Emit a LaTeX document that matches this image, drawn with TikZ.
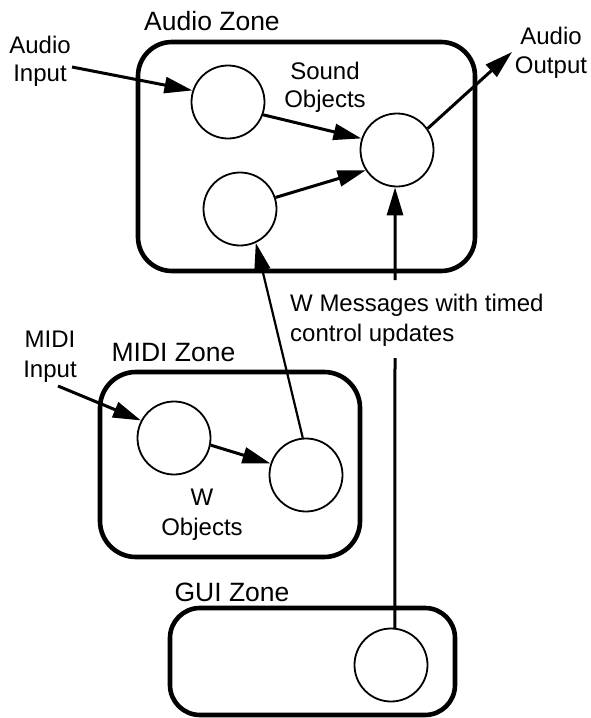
\documentclass[tikz,border=0pt]{standalone}
\usepackage{fontspec}
\setmainfont{Liberation Sans}
\usetikzlibrary{arrows.meta}
\tikzset{
  obj/.style={circle, draw, line width=1.8pt, minimum size=73pt, inner sep=0pt},
  zone/.style={draw, line width=4.6pt, inner sep=0pt},
  lbl/.style={font=\fontsize{24}{29}\selectfont, inner sep=0pt, anchor=base},
  zlbl/.style={font=\fontsize{26.5}{30}\selectfont, inner sep=0pt, anchor=base},
  tip/.style={-{Triangle[length=28pt,width=16pt]}},
  flow/.style={line width=3pt, tip},
  wire/.style={line width=3pt},
}
\begin{document}
\begin{tikzpicture}[x=1pt, y=-1pt]
\useasboundingbox (0,0) rectangle (591,718);

% zones
\node[zone, rounded corners=34pt, minimum width=337pt, minimum height=229pt] (audio) at (306.5,156.5) {};
\node[zone, rounded corners=36pt, minimum width=260pt, minimum height=185pt] (midi) at (230,464.5) {};
\node[zone, rounded corners=30pt, minimum width=285pt, minimum height=107pt] (gui) at (312.5,661.5) {};
\node[zlbl] (audioT) at (212,30) {Audio Zone};
\node[zlbl] (midiT) at (173.5,361) {MIDI Zone};
\node[zlbl] (guiT) at (232,601) {GUI Zone};

% objects
\node[obj] (c1) at (228,102) {};
\node[obj] (c2) at (240,209) {};
\node[obj] (c3) at (397,150) {};
\node[obj] (m1) at (174,438) {};
\node[obj] (m2) at (306,475) {};
\node[obj] (g)  at (391,665) {};

% text labels
\node[lbl] (ainA) at (40,53) {Audio};
\node[lbl] (ainB) at (40,81) {Input};
\node[lbl] (sndA) at (325,79) {Sound};
\node[lbl] (sndB) at (325,107) {Objects};
\node[lbl] (aoutA) at (551,44) {Audio};
\node[lbl] (aoutB) at (551,73) {Output};
\node[lbl] (minA) at (50,347) {MIDI};
\node[lbl] (minB) at (50,377) {Input};
\node[lbl] (wA) at (202,505) {W};
\node[lbl] (wB) at (202,535) {Objects};
\node[lbl, anchor=base west] (msgA) at (290,311) {W Messages with timed};
\node[lbl, anchor=base west] (msgB) at (290,341) {control updates};

% free ends
\coordinate (ain) at (72,67);
\coordinate (aout) at (512,52);
\coordinate (min) at (58,386);
\coordinate (msgLo) at (395,358);
\coordinate (msgHi) at (395,280);

% connectors
\draw[flow] (ain) -- (c1.162);
\draw[flow] (c1.340) -- (c3.162);
\draw[flow] (c2.18) -- (c3.213);
\draw[flow] (c3.35) -- (aout);
\draw[flow] (min) -- (m1.152);
\draw[flow] (m1.349) -- (m2.162);
\draw[flow, line width=2.2pt] (m2.95) -- (c2.295);
\draw[wire] (g.84) -- (msgLo);
\draw[flow] (msgHi) -- (c3.267);
\end{tikzpicture}
\end{document}
